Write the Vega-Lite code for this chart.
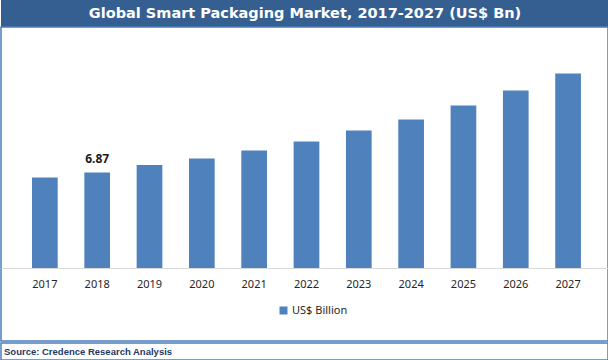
{
  "$schema": "https://vega.github.io/schema/vega-lite/v6.json",
  "padding": 0,
  "background": "white",
  "spacing": 0,
  "bounds": "flush",
  "config": {"view": {"stroke": null}, "font": "Noto Sans"},
  "vconcat": [
    {
      "width": 608,
      "height": 27,
      "view": {"fill": "#365f91", "stroke": null},
      "data": {"values": [{"t": "Global Smart Packaging Market, 2017-2027 (US$ Bn)"}]},
      "mark": {"type": "text", "color": "white", "font": "DejaVu Sans", "fontWeight": "bold", "fontSize": 14.5},
      "encoding": {"text": {"field": "t"}}
    },
    {
      "spacing": 2,
      "bounds": "flush",
      "vconcat": [
        {
          "width": 607,
          "height": 314,
          "view": {"stroke": "#4a7ebb", "strokeWidth": 1.5, "fill": "white"},
          "data": {
            "values": [
              {"year": "2017", "value": 6.51, "label": ""},
              {"year": "2018", "value": 6.87, "label": "6.87"},
              {"year": "2019", "value": 7.41, "label": ""},
              {"year": "2020", "value": 7.88, "label": ""},
              {"year": "2021", "value": 8.45, "label": ""},
              {"year": "2022", "value": 9.10, "label": ""},
              {"year": "2023", "value": 9.89, "label": ""},
              {"year": "2024", "value": 10.68, "label": ""},
              {"year": "2025", "value": 11.69, "label": ""},
              {"year": "2026", "value": 12.77, "label": ""},
              {"year": "2027", "value": 13.99, "label": ""}
            ]
          },
          "encoding": {
            "x": {
              "field": "year",
              "type": "ordinal",
              "scale": {"paddingInner": 0.509, "paddingOuter": 0.555, "align": 0.534},
              "axis": {
                "title": null,
                "domain": true,
                "domainColor": "#d9d9d9",
                "ticks": false,
                "labelPadding": 10,
                "offset": -73,
                "labelFont": "Noto Sans",
                "labelFontSize": 11,
                "labelColor": "#262626",
                "labelAngle": 0
              }
            }
          },
          "layer": [
            {
              "mark": {"type": "bar"},
              "encoding": {
                "y": {
                  "field": "value",
                  "type": "quantitative",
                  "scale": {"domain": [-5.25, 17.34], "nice": false, "zero": false},
                  "axis": null
                },
                "y2": {"datum": 0},
                "color": {
                  "datum": "US$ Billion",
                  "type": "nominal",
                  "scale": {"range": ["#4f81bd"]},
                  "legend": {
                    "title": null,
                    "orient": "none",
                    "legendX": 277,
                    "legendY": 305,
                    "symbolType": "square",
                    "symbolSize": 64,
                    "symbolStrokeWidth": 0,
                    "labelFont": "Noto Sans",
                    "labelFontSize": 11,
                    "labelColor": "#262626",
                    "labelOffset": 3
                  }
                }
              }
            },
            {
              "mark": {"type": "text", "baseline": "bottom", "dy": -7, "fontWeight": "bold", "fontSize": 12, "font": "Noto Sans", "color": "#1a1a1a"},
              "encoding": {
                "y": {"field": "value", "type": "quantitative"},
                "text": {"field": "label"}
              }
            }
          ]
        },
        {
          "width": 607,
          "height": 17,
          "view": {"stroke": "#4a7ebb", "strokeWidth": 1.5},
          "data": {"values": [{"x": 0, "t": "Source: Credence Research Analysis"}]},
          "mark": {"type": "text", "align": "left", "dx": 3, "font": "Liberation Sans", "fontWeight": "bold", "fontSize": 9.5, "color": "#1f3864"},
          "encoding": {
            "x": {"field": "x", "type": "quantitative", "scale": {"domain": [0, 1]}, "axis": null},
            "text": {"field": "t"}
          }
        }
      ]
    }
  ]
}
